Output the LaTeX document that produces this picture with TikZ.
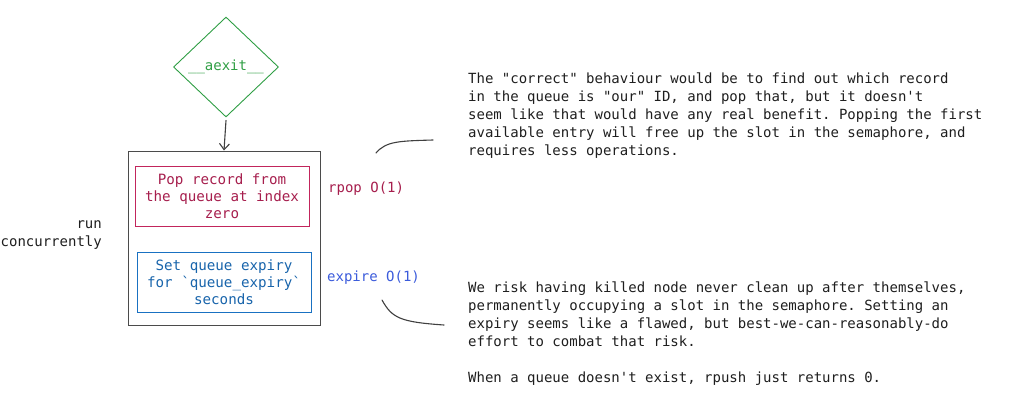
\documentclass[tikz,border=0pt]{standalone}
\usepackage{fontspec}
\newfontfamily\mono{DejaVu Sans Mono}
\usetikzlibrary{shapes.geometric,arrows.meta}
\definecolor{grn}{HTML}{2F9E44}
\definecolor{crim}{HTML}{A61E4D}
\definecolor{crimline}{HTML}{C2255C}
\definecolor{blu}{HTML}{1864AB}
\definecolor{bluline}{HTML}{1971C2}
\definecolor{ind}{HTML}{3B5BDB}
\definecolor{ink}{HTML}{1E1E1E}
\tikzset{
  txt/.style={font=\mono\frenchspacing\fontsize{14}{18}\selectfont, text=ink, inner sep=0pt},
  boxtxt/.style={font=\mono\frenchspacing\fontsize{14.2}{17}\selectfont, align=center, inner sep=0pt},
  frame/.style={draw=ink!80, line width=1pt},
  stroke/.style={draw=ink!85, line width=1.1pt, line cap=round},
}
\begin{document}
\begin{tikzpicture}[x=1pt,y=-1pt]
\useasboundingbox (0,0) rectangle (1031,410);
\node[diamond, draw=grn, line width=0.9pt, minimum width=105pt, minimum height=100pt, inner sep=0pt,
      font=\mono\fontsize{14}{17}\selectfont, text=grn] (exit) at (226,67) {\_\_aexit\_\_};
\node[frame, minimum width=192pt, minimum height=174pt, inner sep=0pt] (group) at (224,238) {};
\draw[stroke, -{Straight Barb[length=6pt,width=10pt]}] (exit.south) ++(0,3) -- (group.north);
\node[draw=crimline, line width=0.9pt, minimum width=174pt, minimum height=60pt, inner sep=0pt] (pop) at (222,196) {};
\node[boxtxt, text=crim] at (pop) {Pop record from\\the queue at index\\zero};
\node[draw=bluline, line width=0.9pt, minimum width=174pt, minimum height=60pt, inner sep=0pt] (exp) at (224,282) {};
\node[boxtxt, text=blu] at (exp) {Set queue expiry\\for `queue\_expiry`\\seconds};
\node[txt, text=crim, anchor=west] (rpop) at (328,189) {rpop O(1)};
\node[txt, text=ind, anchor=west] (expl) at (327,278) {expire O(1)};
\node[txt, align=right, anchor=east] (run) at (102,235) {run\\concurrently};
\node[txt, align=left, anchor=north west] (note1) at (468,73) {The "correct" behaviour would be to find out which record\\in the queue is "our" ID, and pop that, but it doesn't\\seem like that would have any real benefit. Popping the first\\available entry will free up the slot in the semaphore, and\\requires less operations.};
\node[txt, align=left, anchor=north west] (note2) at (468,282) {We risk having killed node never clean up after themselves,\\permanently occupying a slot in the semaphore. Setting an\\expiry seems like a flawed, but best-we-can-reasonably-do\\effort to combat that risk.\\[18pt]When a queue doesn't exist, rpush just returns 0.};
\coordinate (c1a) at (376,153);
\coordinate (c1b) at (433,140);
\draw[stroke] (c1a) .. controls (386,141) and (400,141) .. (c1b);
\coordinate (c2a) at (382,300);
\coordinate (c2b) at (444,325);
\draw[stroke] (c2a) .. controls (392,318) and (400,322) .. (c2b);
\end{tikzpicture}
\end{document}
